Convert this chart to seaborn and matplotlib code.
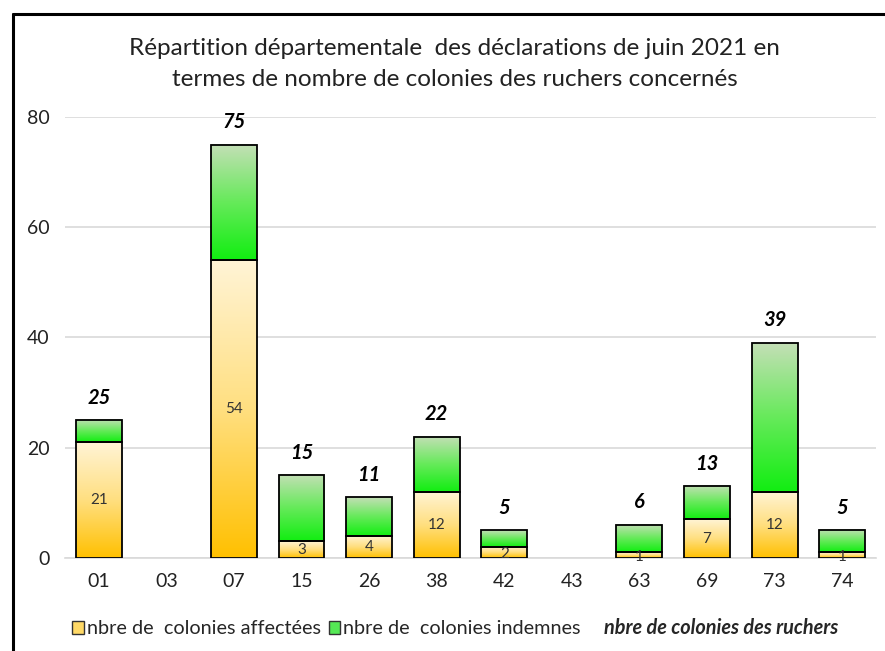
import numpy as np
import matplotlib
matplotlib.use("Agg")
import matplotlib.pyplot as plt
from matplotlib.patches import Patch
from matplotlib.colors import LinearSegmentedColormap
from matplotlib.lines import Line2D
import seaborn as sns

# data
departements = ["01", "03", "07", "15", "26", "38", "42", "43", "63", "69", "73", "74"]
affectees = [21, 0, 54, 3, 4, 12, 2, 0, 1, 7, 12, 1]
totaux = [25, 0, 75, 15, 11, 22, 5, 0, 6, 13, 39, 5]
indemnes = [t - a for t, a in zip(totaux, affectees)]

titre = "Répartition départementale  des déclarations de juin 2021 en\ntermes de nombre de colonies des ruchers concernés"
legende = ["nbre de  colonies affectées", "nbre de  colonies indemnes", "nbre de colonies des ruchers"]

sns.set_style("white")
plt.rcParams["font.family"] = ["Lato", "DejaVu Sans"]

fig = plt.figure(figsize=(8.85, 6.51), dpi=100)
ax = fig.add_axes([0.0734, 0.1429, 0.9164, 0.6774])

# two layers: affected (bottom) and unaffected (stacked on top)
sns.barplot(x=departements, y=affectees, color="#FFC000", width=0.68, ax=ax,
            edgecolor="black", linewidth=1.3, order=departements)
n = len(departements)
sns.barplot(x=departements, y=indemnes, color="#22EE22", width=0.68, ax=ax,
            edgecolor="black", linewidth=1.3, order=departements)

yellow_cmap = LinearSegmentedColormap.from_list("jaune", ["#FFC000", "#FFDF80", "#FFF4D6"])
green_cmap = LinearSegmentedColormap.from_list("vert", ["#11EE11", "#66EA5A", "#C4DFB6"])
grad = np.linspace(0, 1, 256).reshape(-1, 1)

for i, p in enumerate(ax.patches):
    if i >= n:
        p.set_y(affectees[i - n])
    if p.get_height() <= 0:
        p.set_visible(False)
        continue
    x, y, w, h = p.get_x(), p.get_y(), p.get_width(), p.get_height()
    cmap = yellow_cmap if i < n else green_cmap
    ax.imshow(grad, cmap=cmap, origin="lower", extent=[x, x + w, y, y + h],
              aspect="auto", zorder=2)
    p.set_facecolor("none")
    p.set_zorder(3)

# value labels
for i in range(n):
    if affectees[i] > 0:
        ax.text(i, affectees[i] / 2 if affectees[i] > 2 else affectees[i] / 2 - 0.3,
                str(affectees[i]), ha="center", va="center", fontsize=11,
                color="#333333", zorder=4)
    if totaux[i] > 0:
        ax.annotate(str(totaux[i]), (i, totaux[i]), xytext=(0, 9), textcoords="offset points",
                    ha="center", va="bottom", fontsize=14.5, fontweight="bold",
                    fontstyle="italic", color="black")

ax.set_xlim(-0.5, n - 0.5)
ax.set_ylim(0, 80)
ax.set_yticks([0, 20, 40, 60, 80])
ax.yaxis.grid(True, color="#D9D9D9", linewidth=1.2)
ax.set_axisbelow(True)
sns.despine(ax=ax, left=True, top=True, right=True)
ax.spines["bottom"].set_color("#D9D9D9")
ax.spines["bottom"].set_linewidth(1.2)
ax.tick_params(axis="both", length=0, labelsize=14, colors="#222222")
ax.tick_params(axis="x", pad=11)
ax.tick_params(axis="y", pad=11)
ax.set_xlabel("")
ax.set_ylabel("")

fig.text(0.514, 0.902, titre, ha="center", va="center", fontsize=17.5,
         color="#222222", linespacing=1.62)

handles = [Patch(facecolor="#FFD966", edgecolor="#333333", linewidth=1),
           Patch(facecolor="#55E855", edgecolor="#333333", linewidth=1),
           Patch(facecolor="none", edgecolor="none")]
leg = fig.legend(handles, legende, loc="center", bbox_to_anchor=(0.514, 0.035), ncol=3,
                 frameon=False, fontsize=14.3, handlelength=0.6, handleheight=0.6,
                 handletextpad=0.15, columnspacing=0.4)
leg.get_texts()[2].set_fontweight("bold")
leg.get_texts()[2].set_fontstyle("italic")

# outer frame (top and left edges visible)
fig.add_artist(Line2D([13 / 885, 1], [1 - 14 / 651, 1 - 14 / 651], color="black", linewidth=2.2,
                      transform=fig.transFigure))
fig.add_artist(Line2D([13 / 885, 13 / 885], [0, 1 - 14 / 651], color="black", linewidth=2.2,
                      transform=fig.transFigure))

fig.savefig("out.png", dpi=100)
